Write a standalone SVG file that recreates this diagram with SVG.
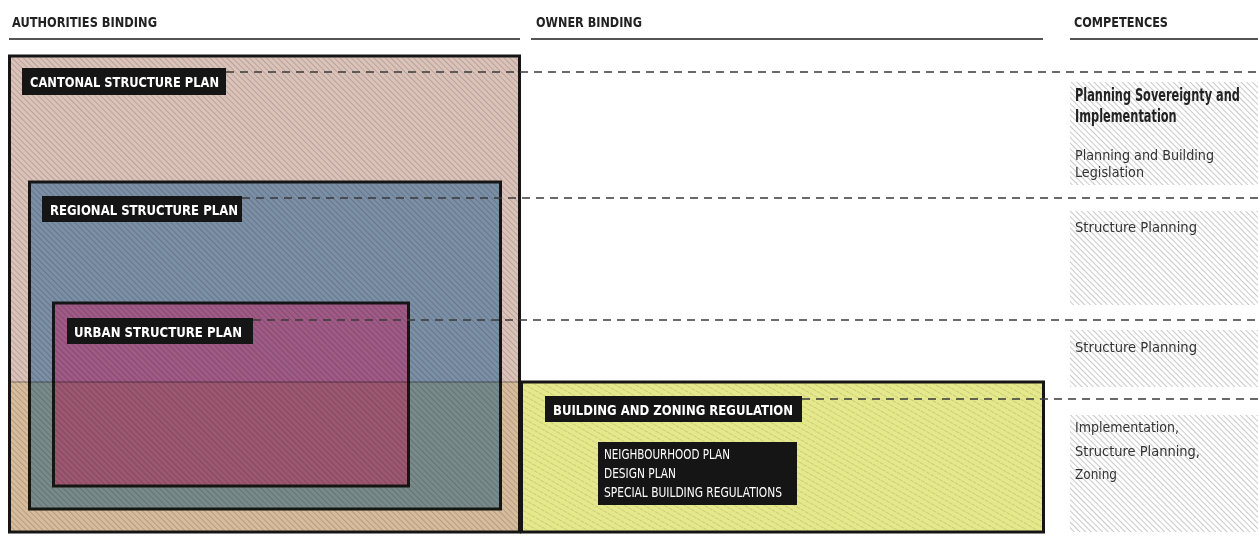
<svg xmlns="http://www.w3.org/2000/svg" width="1258" height="545" viewBox="0 0 1258 545">
<style>
.hdr{font-family:'Liberation Sans Narrow','DejaVu Sans Condensed','Liberation Sans',sans-serif;font-weight:bold;font-size:14.5px;fill:#222;}
.rule{stroke:#555;stroke-width:2;}
.box{stroke:#151515;stroke-width:3;}
.lbl{fill:#151515;}
.lbltxt{font-family:'Liberation Sans Narrow','DejaVu Sans Condensed','Liberation Sans',sans-serif;font-weight:bold;font-size:14px;fill:#fff;}
.subtxt{font-family:'Liberation Sans Narrow','DejaVu Sans Condensed','Liberation Sans',sans-serif;font-size:14px;fill:#fff;}
.dash{stroke:#3a3a3a;stroke-width:1.6;stroke-dasharray:8 6;fill:none;}
.ctitle{font-family:'Liberation Sans Narrow','DejaVu Sans Condensed','Liberation Sans',sans-serif;font-weight:bold;font-size:17px;fill:#222;}
.ctxt{font-family:'Liberation Sans Narrow','DejaVu Sans Condensed','Liberation Sans',sans-serif;font-size:14.5px;fill:#333;}
</style>
<defs>
<pattern id="hatch" width="4" height="4" patternUnits="userSpaceOnUse" patternTransform="rotate(45)">
<line x1="0" y1="0.5" x2="4" y2="0.5" stroke="#000" stroke-opacity="0.17" stroke-width="1"/>
</pattern>
<pattern id="ghatch" width="4" height="4" patternUnits="userSpaceOnUse" patternTransform="rotate(45)">
<line x1="0" y1="0.5" x2="4" y2="0.5" stroke="#9a9a9a" stroke-opacity="0.6" stroke-width="0.9"/>
</pattern>
<pattern id="yhatch" width="5" height="5" patternUnits="userSpaceOnUse" patternTransform="rotate(30)">
<line x1="0" y1="0.5" x2="5" y2="0.5" stroke="#000" stroke-opacity="0.12" stroke-width="1" stroke-dasharray="2 1"/>
</pattern>
</defs>
<rect width="1258" height="545" fill="#fff"/>
<g id="headers">
<text class="hdr" x="12" y="27" textLength="145" lengthAdjust="spacingAndGlyphs">AUTHORITIES BINDING</text>
<text class="hdr" x="536" y="27" textLength="106" lengthAdjust="spacingAndGlyphs">OWNER BINDING</text>
<text class="hdr" x="1074" y="27" textLength="94" lengthAdjust="spacingAndGlyphs">COMPETENCES</text>
<line class="rule" x1="9" y1="39" x2="520" y2="39"/>
<line class="rule" x1="531" y1="39" x2="1043" y2="39"/>
<line class="rule" x1="1070" y1="39" x2="1258" y2="39"/>
</g>
<g id="competence-panels">
<rect x="1070" y="82" width="188" height="103" fill="url(#ghatch)"/>
<rect x="1070" y="211" width="188" height="94" fill="url(#ghatch)"/>
<rect x="1070" y="330" width="188" height="57" fill="url(#ghatch)"/>
<rect x="1070" y="415" width="188" height="117" fill="url(#ghatch)"/>
</g>
<g id="node-cantonal">
<rect class="box" x="9.5" y="56" width="510" height="476" fill="#dcc3ba"/>
<rect x="11" y="57.5" width="507" height="473" fill="url(#hatch)"/>
</g>
<g id="node-regional">
<rect class="box" x="29.5" y="182" width="471" height="327" fill="#7b8fa6"/>
<rect x="31" y="183.5" width="468" height="324" fill="url(#hatch)"/>
</g>
<g id="node-urban">
<rect class="box" x="53.5" y="303" width="355" height="183" fill="#a05a86"/>
<rect x="55" y="304.5" width="352" height="180" fill="url(#hatch)"/>
</g>
<g id="node-building">
<rect x="11" y="382" width="508" height="149" fill="#fbf7d6" style="mix-blend-mode:multiply"/>
<line x1="11" y1="382" x2="519" y2="382" stroke="#000" stroke-opacity="0.22" stroke-width="2"/>
<rect class="box" x="521.5" y="382" width="522" height="150" fill="#e5e98b"/>
<rect x="523" y="383.5" width="519" height="147" fill="url(#yhatch)"/>
</g>
<g id="connectors">
<line class="dash" x1="226" y1="72" x2="1258" y2="72"/>
<line class="dash" x1="242" y1="198" x2="1258" y2="198"/>
<line class="dash" x1="253" y1="320" x2="1258" y2="320"/>
<line class="dash" x1="802" y1="399" x2="1258" y2="399"/>
</g>
<g id="label-cantonal">
<rect class="lbl" x="22" y="68" width="204" height="27"/>
<text class="lbltxt" x="30" y="87" textLength="189" lengthAdjust="spacingAndGlyphs">CANTONAL STRUCTURE PLAN</text>
</g>
<g id="label-regional">
<rect class="lbl" x="42" y="196" width="200" height="26"/>
<text class="lbltxt" x="50" y="214.5" textLength="188" lengthAdjust="spacingAndGlyphs">REGIONAL STRUCTURE PLAN</text>
</g>
<g id="label-urban">
<rect class="lbl" x="67" y="318" width="186" height="26"/>
<text class="lbltxt" x="74" y="336.5" textLength="168" lengthAdjust="spacingAndGlyphs">URBAN STRUCTURE PLAN</text>
</g>
<g id="label-building">
<rect class="lbl" x="545" y="396" width="257" height="26"/>
<text class="lbltxt" x="553" y="414.5" textLength="240" lengthAdjust="spacingAndGlyphs">BUILDING AND ZONING REGULATION</text>
<rect class="lbl" x="598" y="442" width="199" height="63"/>
<text class="subtxt" x="604" y="459" textLength="126" lengthAdjust="spacingAndGlyphs">NEIGHBOURHOOD PLAN</text>
<text class="subtxt" x="604" y="478" textLength="72" lengthAdjust="spacingAndGlyphs">DESIGN PLAN</text>
<text class="subtxt" x="604" y="497" textLength="178" lengthAdjust="spacingAndGlyphs">SPECIAL BUILDING REGULATIONS</text>
</g>
<g id="competence-texts">
<text class="ctitle" transform="translate(1075,101) scale(0.82,1)" x="0" y="0" textLength="201" lengthAdjust="spacingAndGlyphs">Planning Sovereignty and</text>
<text class="ctitle" transform="translate(1075,122) scale(0.82,1)" x="0" y="0" textLength="124" lengthAdjust="spacingAndGlyphs">Implementation</text>
<text class="ctxt" x="1075" y="160" textLength="139" lengthAdjust="spacingAndGlyphs">Planning and Building</text>
<text class="ctxt" x="1075" y="177" textLength="69" lengthAdjust="spacingAndGlyphs">Legislation</text>
<text class="ctxt" x="1075" y="232" textLength="122" lengthAdjust="spacingAndGlyphs">Structure Planning</text>
<text class="ctxt" x="1075" y="352" textLength="122" lengthAdjust="spacingAndGlyphs">Structure Planning</text>
<text class="ctxt" x="1075" y="432" textLength="104" lengthAdjust="spacingAndGlyphs">Implementation,</text>
<text class="ctxt" x="1075" y="456" textLength="125" lengthAdjust="spacingAndGlyphs">Structure Planning,</text>
<text class="ctxt" x="1075" y="479" textLength="42" lengthAdjust="spacingAndGlyphs">Zoning</text>
</g>
</svg>
